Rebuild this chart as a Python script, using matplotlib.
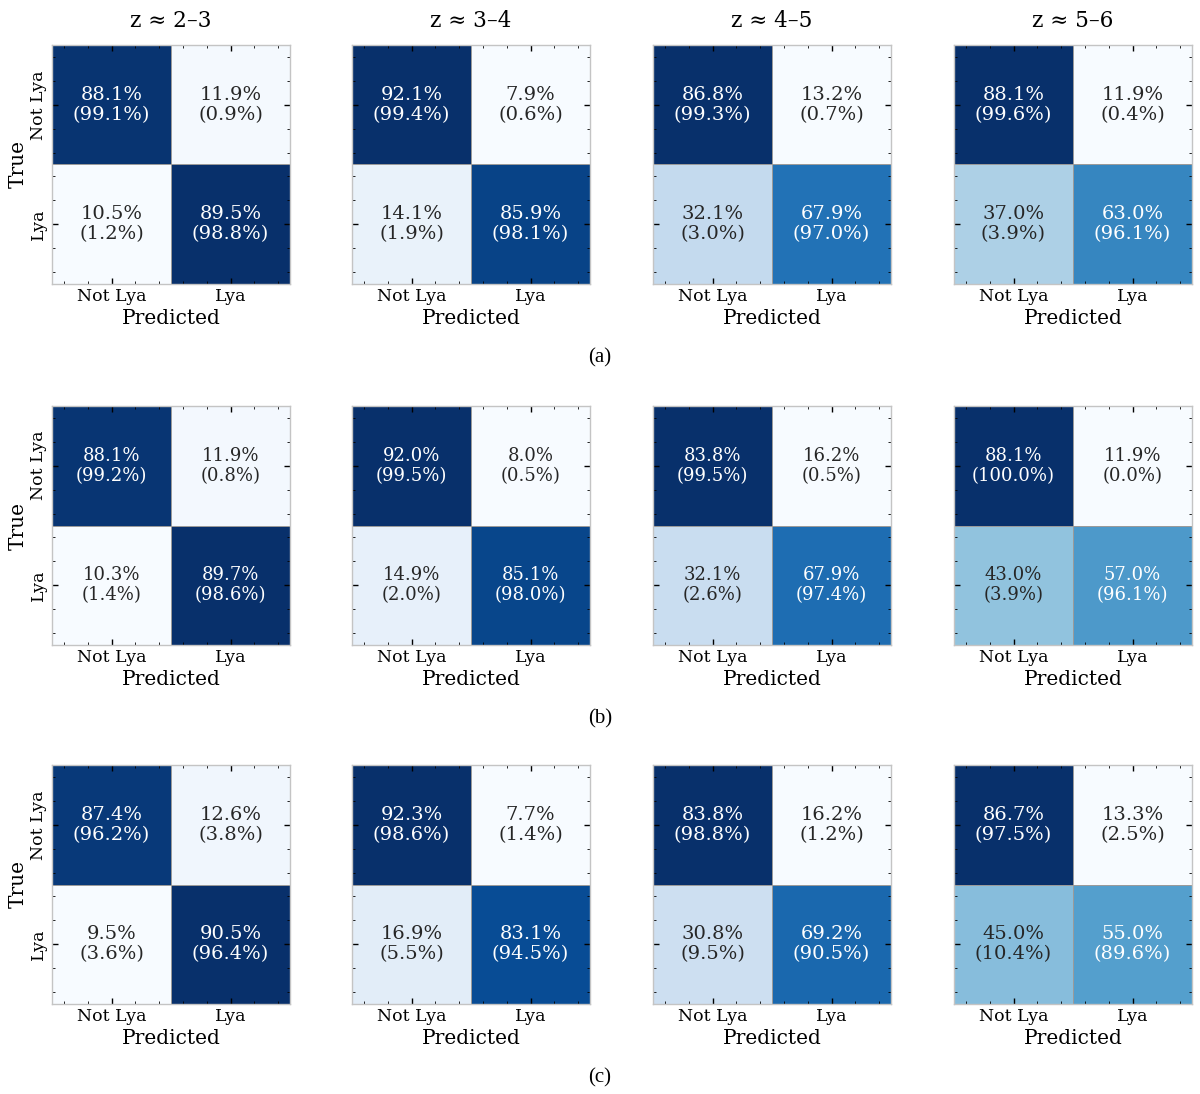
import matplotlib
matplotlib.use("Agg")
import matplotlib.pyplot as plt
import numpy as np
from matplotlib.colors import Normalize
from matplotlib.ticker import AutoMinorLocator, FixedLocator

plt.rcParams["font.family"] = ["DejaVu Serif"]

# row-normalised percentages (true class rows: Not Lya, Lya)
row_pct_a = [
    [[88.1, 11.9], [10.5, 89.5]],
    [[92.1, 7.9], [14.1, 85.9]],
    [[86.8, 13.2], [32.1, 67.9]],
    [[88.1, 11.9], [37.0, 63.0]],
]
col_pct_a = [
    [[99.1, 0.9], [1.2, 98.8]],
    [[99.4, 0.6], [1.9, 98.1]],
    [[99.3, 0.7], [3.0, 97.0]],
    [[99.6, 0.4], [3.9, 96.1]],
]
row_pct_b = [
    [[88.1, 11.9], [10.3, 89.7]],
    [[92.0, 8.0], [14.9, 85.1]],
    [[83.8, 16.2], [32.1, 67.9]],
    [[88.1, 11.9], [43.0, 57.0]],
]
col_pct_b = [
    [[99.2, 0.8], [1.4, 98.6]],
    [[99.5, 0.5], [2.0, 98.0]],
    [[99.5, 0.5], [2.6, 97.4]],
    [[100.0, 0.0], [3.9, 96.1]],
]
row_pct_c = [
    [[87.4, 12.6], [9.5, 90.5]],
    [[92.3, 7.7], [16.9, 83.1]],
    [[83.8, 16.2], [30.8, 69.2]],
    [[86.7, 13.3], [45.0, 55.0]],
]
col_pct_c = [
    [[96.2, 3.8], [3.6, 96.4]],
    [[98.6, 1.4], [5.5, 94.5]],
    [[98.8, 1.2], [9.5, 90.5]],
    [[97.5, 2.5], [10.4, 89.6]],
]

z_bins = ["z \u2248 2\u20133", "z \u2248 3\u20134", "z \u2248 4\u20135", "z \u2248 5\u20136"]
class_labels = ["Not Lya", "Lya"]
panel_labels = ["(a)", "(b)", "(c)"]

rows = [
    (row_pct_a, col_pct_a, 14),
    (row_pct_b, col_pct_b, 13),
    (row_pct_c, col_pct_c, 14),
]

W, H = 1200, 1094
fig = plt.figure(figsize=(W / 100, H / 100), dpi=100)
cmap = plt.get_cmap("Blues")

col_left = [52, 352, 653, 954]
row_top = [45, 406, 765]
size_w, size_h = 238, 239


def luminance(rgba):
    rgb = np.array(rgba[:3])
    rgb = np.where(rgb <= 0.03928, rgb / 12.92, ((rgb + 0.055) / 1.055) ** 2.4)
    return 0.2126 * rgb[0] + 0.7152 * rgb[1] + 0.0722 * rgb[2]


for r, (row_pct, col_pct, fsize) in enumerate(rows):
    for c in range(4):
        ax = fig.add_axes([col_left[c] / W, 1 - (row_top[r] + size_h) / H, size_w / W, size_h / H])
        mat = np.array(row_pct[c])
        norm = Normalize(vmin=mat.min(), vmax=mat.max())
        ax.pcolormesh(mat, cmap=cmap, norm=norm, edgecolors="#9a9a9a", linewidth=0.6)
        ax.set_xlim(0, 2)
        ax.set_ylim(2, 0)

        for i in range(2):
            for j in range(2):
                color = cmap(norm(mat[i, j]))
                tcol = "#262626" if luminance(color) > 0.408 else "white"
                ax.text(j + 0.5, i + 0.5, f"{mat[i, j]:.1f}%\n({col_pct[c][i][j]:.1f}%)",
                        ha="center", va="center", color=tcol, fontsize=fsize, linespacing=1.15)

        ax.xaxis.set_major_locator(FixedLocator([0.5, 1.5]))
        ax.yaxis.set_major_locator(FixedLocator([0.5, 1.5]))
        ax.xaxis.set_minor_locator(AutoMinorLocator(5))
        ax.yaxis.set_minor_locator(AutoMinorLocator(5))
        ax.tick_params(which="both", direction="in", top=True, right=True, color="black")
        ax.tick_params(which="major", length=4, width=1)
        ax.tick_params(which="minor", length=2, width=0.6)
        ax.set_xticklabels(class_labels, fontsize=12.5)
        ax.tick_params(axis="x", pad=3)
        ax.set_xlabel("Predicted", fontsize=14.5, labelpad=3)
        if c == 0:
            ax.set_yticklabels(class_labels, fontsize=12.5, rotation=90, va="center")
            ax.set_ylabel("True", fontsize=14.5, labelpad=2)
        else:
            ax.set_yticklabels([])
        for sp in ax.spines.values():
            sp.set_color("#c4c4c4")
            sp.set_linewidth(1.0)
        if r == 0:
            ax.set_title(z_bins[c], fontsize=15.5, pad=13)

    fig.text(0.5, 1 - (row_top[r] + 313) / H, panel_labels[r], ha="center", va="center",
             fontsize=15, family=["Liberation Serif"])

fig.savefig("out.png", dpi=100)
